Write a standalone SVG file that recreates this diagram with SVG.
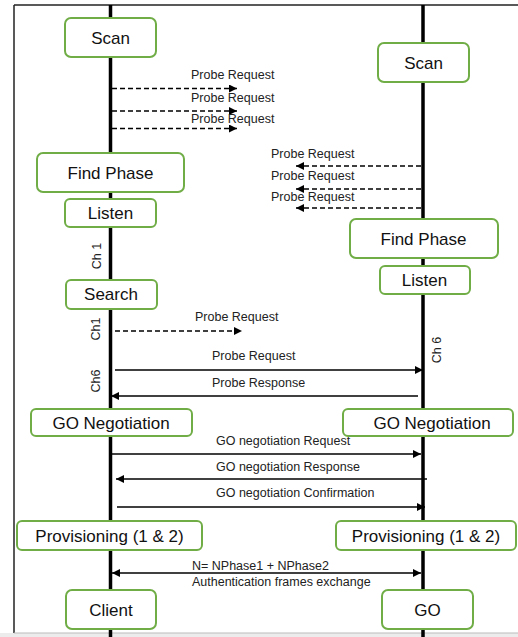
<svg xmlns="http://www.w3.org/2000/svg" width="518" height="637" viewBox="0 0 518 637">
<style>
.box{fill:#fff;stroke:#70AD47;stroke-width:2}
.big{font-family:"Liberation Sans",Arial,sans-serif;font-size:17px;fill:#111;text-anchor:middle;dominant-baseline:central}
.sm{font-family:"Liberation Sans",Arial,sans-serif;font-size:12.5px;fill:#222;dominant-baseline:central}
.life{stroke:#000;stroke-width:3.5}
.msg{stroke:#000;stroke-width:1.6;fill:none}
.dash{stroke-dasharray:5 3}
</style>
<defs>
<marker id="ah" viewBox="0 0 10 10" refX="10" refY="5" markerWidth="8" markerHeight="8" markerUnits="userSpaceOnUse" orient="auto-start-reverse">
<path d="M0,0 L10,5 L0,10 z" fill="#000"/>
</marker>
</defs>
<rect x="0" y="633" width="518" height="4" fill="#ececec"/>
<g id="frame">
<line x1="14" y1="5" x2="518" y2="5" stroke="#222" stroke-width="1.5"/>
<line x1="14" y1="5" x2="14" y2="633" stroke="#222" stroke-width="1.5"/>
<line x1="14" y1="633" x2="518" y2="633" stroke="#bbb" stroke-width="1"/>
</g>
<g id="lifelines">
<line class="life" x1="110.5" y1="5" x2="110.5" y2="637"/>
<line class="life" x1="423" y1="5" x2="423" y2="637"/>
</g>
<g id="connectors">
<line class="msg dash" x1="112" y1="88.5" x2="237" y2="88.5" marker-end="url(#ah)"/>
<line class="msg dash" x1="112" y1="111" x2="237" y2="111" marker-end="url(#ah)"/>
<line class="msg dash" x1="112" y1="128.5" x2="237" y2="128.5" marker-end="url(#ah)"/>
<line class="msg dash" x1="421" y1="166" x2="296" y2="166" marker-end="url(#ah)"/>
<line class="msg dash" x1="421" y1="189" x2="296" y2="189" marker-end="url(#ah)"/>
<line class="msg dash" x1="421" y1="208" x2="296" y2="208" marker-end="url(#ah)"/>
<line class="msg dash" x1="115" y1="331" x2="242" y2="331" marker-end="url(#ah)"/>
<line class="msg" x1="115" y1="370" x2="423" y2="370" marker-end="url(#ah)"/>
<line class="msg" x1="418" y1="396" x2="111" y2="396" marker-end="url(#ah)"/>
<line class="msg" x1="110" y1="454" x2="421" y2="454" marker-end="url(#ah)"/>
<line class="msg" x1="427" y1="479" x2="116" y2="479" marker-end="url(#ah)"/>
<line class="msg" x1="117" y1="507" x2="425" y2="507" marker-end="url(#ah)"/>
<line class="msg" x1="112" y1="573" x2="421" y2="573" marker-start="url(#ah)" marker-end="url(#ah)"/>
</g>
<g id="labels">
<text class="sm" x="191" y="75">Probe Request</text>
<text class="sm" x="191" y="98">Probe Request</text>
<text class="sm" x="191" y="119">Probe Request</text>
<text class="sm" x="271" y="154">Probe Request</text>
<text class="sm" x="271" y="176">Probe Request</text>
<text class="sm" x="271" y="197">Probe Request</text>
<text class="sm" x="195" y="317">Probe Request</text>
<text class="sm" x="212" y="356">Probe Request</text>
<text class="sm" x="212" y="383">Probe Response</text>
<text class="sm" x="216" y="441">GO negotiation Request</text>
<text class="sm" x="216" y="467">GO negotiation Response</text>
<text class="sm" x="216" y="493">GO negotiation Confirmation</text>
<text class="sm" x="192" y="566">N= NPhase1 + NPhase2</text>
<text class="sm" x="192" y="582">Authentication frames exchange</text>
<text class="sm" x="97" y="256" transform="rotate(-90 97 256)" text-anchor="middle">Ch 1</text>
<text class="sm" x="96" y="329" transform="rotate(-90 96 329)" text-anchor="middle">Ch1</text>
<text class="sm" x="96" y="381" transform="rotate(-90 96 381)" text-anchor="middle">Ch6</text>
<text class="sm" x="437" y="350" transform="rotate(-90 437 350)" text-anchor="middle">Ch 6</text>
</g>
<g id="scan-left"><rect class="box" x="65" y="18" width="91" height="39" rx="6"/><text class="big" x="110.5" y="38">Scan</text></g>
<g id="scan-right"><rect class="box" x="378" y="43" width="91" height="39" rx="6"/><text class="big" x="423.5" y="63">Scan</text></g>
<g id="find-left"><rect class="box" x="37" y="153" width="147" height="39" rx="6"/><text class="big" x="110.5" y="173">Find Phase</text></g>
<g id="listen-left"><rect class="box" x="65" y="199" width="91" height="28" rx="5"/><text class="big" x="110.5" y="213">Listen</text></g>
<g id="find-right"><rect class="box" x="350" y="219" width="148" height="39" rx="6"/><text class="big" x="423.5" y="239">Find Phase</text></g>
<g id="listen-right"><rect class="box" x="380" y="266" width="90" height="28" rx="5"/><text class="big" x="424.5" y="280">Listen</text></g>
<g id="search-left"><rect class="box" x="66" y="280" width="91" height="29" rx="5"/><text class="big" x="111" y="294.5">Search</text></g>
<g id="gonego-left"><rect class="box" x="31" y="409" width="161" height="27" rx="5"/><text class="big" x="111" y="423">GO Negotiation</text></g>
<g id="gonego-right"><rect class="box" x="343" y="409" width="170" height="27" rx="5"/><text class="big" x="432" y="423">GO Negotiation</text></g>
<g id="prov-left"><rect class="box" x="17" y="521" width="185" height="29" rx="5"/><text class="big" x="109.5" y="536">Provisioning (1 &amp; 2)</text></g>
<g id="prov-right"><rect class="box" x="336" y="521" width="180" height="29" rx="5"/><text class="big" x="426" y="536">Provisioning (1 &amp; 2)</text></g>
<g id="client"><rect class="box" x="66" y="590" width="90" height="39" rx="6"/><text class="big" x="111" y="610">Client</text></g>
<g id="go"><rect class="box" x="382" y="590" width="91" height="39" rx="6"/><text class="big" x="427.5" y="610">GO</text></g>
</svg>
